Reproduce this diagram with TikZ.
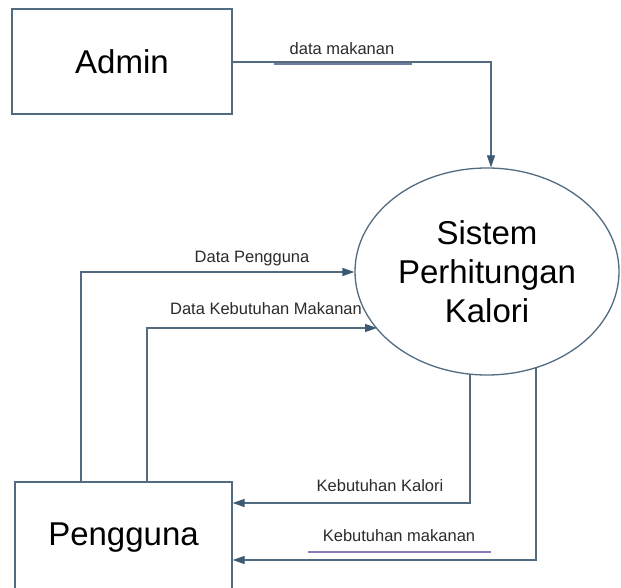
\documentclass[tikz,border=0pt]{standalone}
\usepackage{fontspec}
\setmainfont{Liberation Sans}
\usetikzlibrary{shapes.geometric,arrows.meta}
\definecolor{linec}{HTML}{526B80}
\definecolor{arrc}{HTML}{3E5A73}
\definecolor{ulA}{HTML}{6E7C9E}
\definecolor{ulB}{HTML}{34427A}
\definecolor{ulC}{HTML}{8B7BB8}
\definecolor{txt}{HTML}{2B2B2B}
\begin{document}
\begin{tikzpicture}[x=1pt,y=-1pt,
  entity/.style={draw=linec,line width=1.3pt,rectangle,inner sep=0pt,font=\fontsize{33}{39}\selectfont},
  proc/.style={draw=linec,line width=1.3pt,ellipse,inner sep=0pt,minimum width=264pt,minimum height=207pt,align=center,font=\fontsize{33}{39}\selectfont},
  flow/.style={draw=linec,line width=1.3pt,-{Triangle[length=12pt,width=8pt,fill=arrc,color=arrc]}},
  lbl/.style={text=txt,font=\fontsize{16.5}{19}\selectfont,inner sep=0pt,text height=12pt,text depth=3.5pt},
  ulbar/.style={line width=2.6pt}]
\useasboundingbox (0,0) rectangle (621,588);
\clip (0,0) rectangle (621,588);
\fill[white] (0,0) rectangle (621,588);

% entities and process
\node[entity,minimum width=220pt,minimum height=105pt] (admin) at (122,61.5) {Admin};
\node[entity,minimum width=217pt,minimum height=112pt] (pengguna) at (123.5,538) {Pengguna};
\node[proc] (sys) at (487,271.5) {Sistem\\Perhitungan\\Kalori};

% helper coordinates
\coordinate (dm) at (491,62);
\coordinate (dp) at (81,272);
\coordinate (dk) at (147,328);
\coordinate (dkEnd) at (377,328);
\coordinate (kkTop) at (470,374);
\coordinate (kk) at (470,503);
\coordinate (kmTop) at (536,368);
\coordinate (km) at (536,560);

% underline bars
\draw[ulbar,ulA] (274,64) -- (412,64);
\draw[ulbar,ulB] (178,272) -- (329,272);
\draw[ulbar,ulB] (154,328) -- (364,328);
\draw[ulbar,ulB] (297,503) -- (461,503);
\draw[line width=2pt,ulC] (308,552) -- (491,552);

% flows
\draw[flow] (admin.east |- dm) -- (dm) -- (dm |- sys.north);
\draw[flow] (dp |- pengguna.north) -- (dp) -- (sys.west |- dp);
\draw[flow] (dk |- pengguna.north) -- (dk) -- (dkEnd);
\draw[flow] (kkTop) -- (kk) -- (pengguna.east |- kk);
\draw[flow] (kmTop) -- (km) -- (pengguna.east |- km);

% labels
\node[lbl] (l1) at (342,50) {data makanan};
\node[lbl] (l2) at (252,258) {Data Pengguna};
\node[lbl] (l3) at (266,310) {Data Kebutuhan Makanan};
\node[lbl] (l4) at (380,487) {Kebutuhan Kalori};
\node[lbl] (l5) at (399,537) {Kebutuhan makanan};
\end{tikzpicture}
\end{document}
